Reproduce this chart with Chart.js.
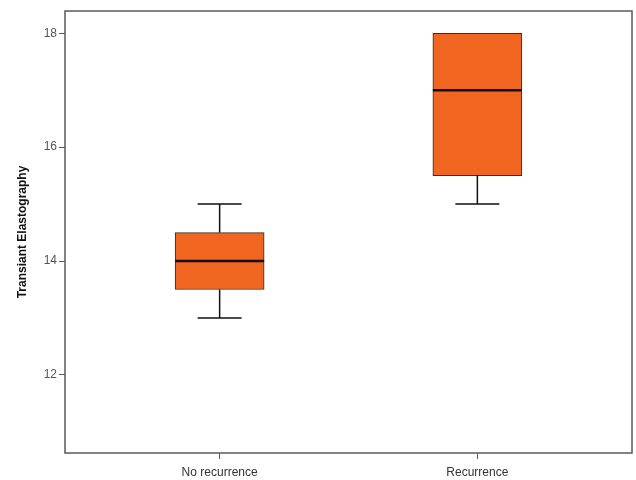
<!DOCTYPE html>
<html lang="en">
<head>
  <meta charset="UTF-8" />
  <title>Transient Elastography</title>
  <script src="https://cdn.jsdelivr.net/npm/chart.js"></script>
  <style>
    body { margin: 0; background: #fff; }
    canvas { display: block; }
  </style>
</head>
<body>
  <canvas id="boxChart" width="636" height="480"></canvas>

  <script>
    // data
    const categories = ['No recurrence', 'Recurrence'];
    const whiskerMin = [13, 15];
    const quartile1 = [13.5, 15.5];
    const medians = [14, 17];
    const quartile3 = [14.5, 18];
    const whiskerMax = [15, 18];
    const yTicks = [12, 14, 16, 18];

    const boxColor = '#f0651f';
    const axisColor = '#5a5a5a';

    // whiskers, caps, median lines and frame, drawn with the chart scales
    const boxExtras = {
      id: 'boxExtras',
      afterDatasetsDraw(chart) {
        const { ctx, chartArea, scales: { x, y } } = chart;
        ctx.save();
        ctx.strokeStyle = '#111';
        categories.forEach((c, i) => {
          const cx = x.getPixelForValue(i);
          const capHalf = 22;
          const boxHalf = 44.5;
          ctx.lineWidth = 1.5;
          ctx.beginPath();
          // lower whisker
          ctx.moveTo(cx, y.getPixelForValue(quartile1[i]));
          ctx.lineTo(cx, y.getPixelForValue(whiskerMin[i]));
          ctx.moveTo(cx - capHalf, y.getPixelForValue(whiskerMin[i]));
          ctx.lineTo(cx + capHalf, y.getPixelForValue(whiskerMin[i]));
          // upper whisker
          if (whiskerMax[i] > quartile3[i]) {
            ctx.moveTo(cx, y.getPixelForValue(quartile3[i]));
            ctx.lineTo(cx, y.getPixelForValue(whiskerMax[i]));
            ctx.moveTo(cx - capHalf, y.getPixelForValue(whiskerMax[i]));
            ctx.lineTo(cx + capHalf, y.getPixelForValue(whiskerMax[i]));
          }
          ctx.stroke();
          // median
          ctx.lineWidth = 2.5;
          ctx.beginPath();
          ctx.moveTo(cx - boxHalf, y.getPixelForValue(medians[i]));
          ctx.lineTo(cx + boxHalf, y.getPixelForValue(medians[i]));
          ctx.stroke();
        });
        // plot frame
        ctx.strokeStyle = axisColor;
        ctx.lineWidth = 1.5;
        ctx.strokeRect(chartArea.left, chartArea.top, chartArea.right - chartArea.left, chartArea.bottom - chartArea.top);
        ctx.restore();
      }
    };

    const ctx = document.getElementById('boxChart').getContext('2d');

    new Chart(ctx, {
      type: 'bar',
      data: {
        datasets: [{
          data: categories.map((c, i) => ({ x: i, y: [quartile1[i], quartile3[i]] })),
          backgroundColor: boxColor,
          borderColor: '#3a2a20',
          borderWidth: 1,
          borderSkipped: false,
          barThickness: 89
        }]
      },
      options: {
        responsive: false,
        animation: false,
        layout: { padding: { top: 11, right: 4, left: 15, bottom: 0 } },
        plugins: {
          legend: { display: false },
          tooltip: { enabled: false }
        },
        scales: {
          x: {
            type: 'linear',
            min: -0.6,
            max: 1.6,
            offset: false,
            afterBuildTicks: (scale) => { scale.ticks = categories.map((c, i) => ({ value: i })); },
            afterFit: (scale) => { scale.height = 27; },
            ticks: {
              callback: (v) => categories[v],
              color: '#333',
              font: { family: 'Liberation Sans', size: 12 },
              padding: 6,
              maxRotation: 0
            },
            grid: { offset: false, drawOnChartArea: false, drawTicks: true, tickLength: 6, color: axisColor },
            border: { display: false }
          },
          y: {
            min: 10.63,
            max: 18.39,
            afterBuildTicks: (scale) => { scale.ticks = yTicks.map(v => ({ value: v })); },
            afterFit: (scale) => { scale.width = 50; },
            ticks: {
              color: '#555',
              font: { family: 'Liberation Sans', size: 12 },
              padding: 2
            },
            grid: { drawOnChartArea: false, drawTicks: true, tickLength: 6, color: axisColor },
            border: { display: false },
            title: {
              display: true,
              text: 'Transiant Elastography',
              color: '#111',
              font: { family: 'Liberation Sans', size: 12, weight: 'bold' },
              padding: { top: 0, bottom: 4 }
            }
          }
        }
      },
      plugins: [boxExtras]
    });
  </script>
</body>
</html>
